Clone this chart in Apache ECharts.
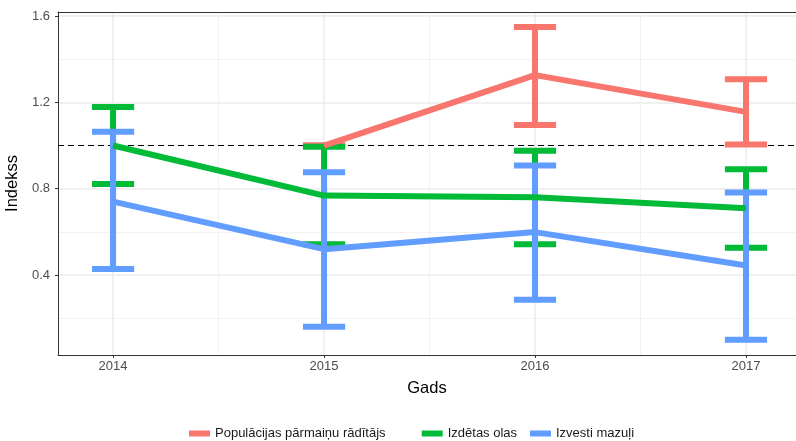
<!DOCTYPE html>
<html>
<head>
<meta charset="utf-8">
<script src="https://cdn.jsdelivr.net/npm/echarts@6/dist/echarts.min.js"></script>
<style>
  html, body { margin: 0; padding: 0; background: #fff; }
  #main { width: 796px; height: 441px; }
</style>
</head>
<body>
<div id="main"></div>
<script>
// dati
var years = [2014, 2015, 2016, 2017];
var seriesNames = ['Populācijas pārmaiņu rādītājs', 'Izdētas olas', 'Izvesti mazuļi'];

var popMean = [null, 1.0, 1.326, 1.156];
var popLo = [null, 1.0, 1.095, 1.005];
var popHi = [null, 1.0, 1.549, 1.307];

var eggMean = [1.0, 0.768, 0.760, 0.710];
var eggLo = [0.822, 0.543, 0.543, 0.527];
var eggHi = [1.179, 0.994, 0.976, 0.890];

var chickMean = [0.740, 0.520, 0.599, 0.444];
var chickLo = [0.428, 0.161, 0.286, 0.101];
var chickHi = [1.064, 0.876, 0.907, 0.782];

var yMajor = [0.4, 0.8, 1.2, 1.6];
var yMinor = [0.2, 0.6, 1.0, 1.4];
var xMinor = [2014.5, 2015.5, 2016.5];
var refLine = 1.0;

var colors = ['#F8766D', '#00BA38', '#619CFF'];
var means = [popMean, eggMean, chickMean];
var los = [popLo, eggLo, chickLo];
var his = [popHi, eggHi, chickHi];

var XMIN = 2013.739, XMAX = 2017.237;
var YMIN = 0.0298, YMAX = 1.6185;
var CAP = 0.1;
var FONT = '"Liberation Sans", Arial, Helvetica, sans-serif';

function errBar(color) {
  return function (params, api) {
    var x = api.value(0), lo = api.value(1), hi = api.value(2);
    var top = api.coord([x, hi]);
    var bot = api.coord([x, lo]);
    var l = api.coord([x - CAP, hi])[0];
    var r = api.coord([x + CAP, hi])[0];
    var st = { stroke: color, lineWidth: 6, lineCap: 'butt' };
    return {
      type: 'group',
      children: [
        { type: 'line', shape: { x1: top[0], y1: top[1], x2: bot[0], y2: bot[1] }, style: st },
        { type: 'line', shape: { x1: l, y1: top[1], x2: r, y2: top[1] }, style: st },
        { type: 'line', shape: { x1: l, y1: bot[1], x2: r, y2: bot[1] }, style: st }
      ]
    };
  };
}

var series = [];
// kļūdu joslas vispirms (apakšā)
for (var i = 0; i < 3; i++) {
  var d = [];
  years.forEach(function (y, j) {
    if (means[i][j] != null) d.push([y, los[i][j], his[i][j]]);
  });
  series.push({
    name: 'err' + i,
    type: 'custom',
    renderItem: errBar(colors[i]),
    encode: { x: 0, y: [1, 2] },
    data: d,
    z: 3,
    silent: true
  });
}
// līnijas virsū
for (var k = 0; k < 3; k++) {
  var ld = [];
  years.forEach(function (y, j) {
    if (means[k][j] != null) ld.push([y, means[k][j]]);
  });
  var s = {
    name: seriesNames[k],
    type: 'line',
    data: ld,
    showSymbol: false,
    symbol: 'none',
    lineStyle: { color: colors[k], width: 6, cap: 'butt', join: 'round' },
    itemStyle: { color: colors[k] },
    z: 4,
    animation: false
  };
  if (k === 0) {
    s.markLine = {
      silent: true,
      symbol: 'none',
      z: 1,
      label: { show: false },
      lineStyle: { color: '#000', type: [6, 4], width: 1.2 },
      data: [{ yAxis: refLine }]
    };
  }
  series.push(s);
}

var legendLefts = [189, 421.7, 530];
var legends = seriesNames.map(function (n, i) {
  return {
    data: [n],
    left: legendLefts[i],
    top: 427,
    padding: 0,
    icon: 'rect',
    itemWidth: 21,
    itemHeight: 6,
    textStyle: { fontFamily: FONT, fontSize: 13, color: '#1a1a1a' },
    selectedMode: false
  };
});

var option = {
  animation: false,
  backgroundColor: '#fff',
  grid: { left: 58, right: 0, top: 12, bottom: 86, containLabel: false, outerBoundsMode: 'none' },
  legend: legends,
  xAxis: [{
    type: 'value',
    min: XMIN, max: XMAX,
    position: 'bottom',
    name: 'Gads',
    nameLocation: 'middle',
    nameGap: 25,
    nameTextStyle: { fontFamily: FONT, fontSize: 16.5, color: '#000' },
    axisLine: { show: true, onZero: false, lineStyle: { color: '#333', width: 1 } },
    axisTick: { show: true, length: 3, customValues: years, lineStyle: { color: '#333' } },
    axisLabel: { customValues: years, margin: 5, fontFamily: FONT, fontSize: 13, color: '#4d4d4d',
      formatter: function (v) { return String(Math.round(v)); } },
    splitLine: { show: true, lineStyle: { color: '#ebebeb', width: 1.5 } }
  }, {
    type: 'value',
    min: XMIN, max: XMAX,
    position: 'top',
    axisLine: { show: true, onZero: false, lineStyle: { color: '#333', width: 1 } },
    axisTick: { show: false, customValues: xMinor },
    axisLabel: { show: false },
    splitLine: { show: true, lineStyle: { color: '#f2f2f2', width: 1 } }
  }],
  yAxis: [{
    type: 'value',
    min: YMIN, max: YMAX,
    position: 'left',
    name: 'Indekss',
    nameLocation: 'middle',
    nameGap: 27,
    nameRotate: 90,
    nameTextStyle: { fontFamily: FONT, fontSize: 16.5, color: '#000' },
    axisLine: { show: true, onZero: false, lineStyle: { color: '#333', width: 1 } },
    axisTick: { show: true, length: 3, customValues: yMajor, lineStyle: { color: '#333' } },
    axisLabel: { customValues: yMajor, margin: 8, fontFamily: FONT, fontSize: 13, color: '#4d4d4d',
      formatter: function (v) { return v.toFixed(1); } },
    splitLine: { show: true, lineStyle: { color: '#ebebeb', width: 1.5 } }
  }, {
    type: 'value',
    min: YMIN, max: YMAX,
    position: 'right',
    axisLine: { show: false },
    axisTick: { show: false, customValues: yMinor },
    axisLabel: { show: false },
    splitLine: { show: true, lineStyle: { color: '#f2f2f2', width: 1 } }
  }],
  series: series
};

var chart = echarts.init(document.getElementById('main'), null, { renderer: 'canvas' });
chart.setOption(option);
</script>
</body>
</html>
